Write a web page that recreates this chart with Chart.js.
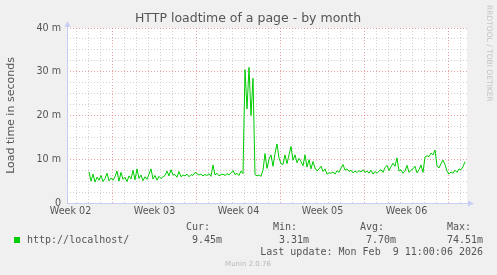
<!DOCTYPE html>
<html><head><meta charset="utf-8">
<script src="https://cdn.jsdelivr.net/npm/chart.js@4.4.1/dist/chart.umd.min.js"></script>
<style>html,body{margin:0;padding:0;background:#f0f0f0;}#wrap{width:497px;height:275px;}</style>
</head><body><div id="wrap"><canvas id="c" width="497" height="275"></canvas></div>
<script>
const chartTitle = "HTTP loadtime of a page - by month";
const yAxisTitle = "Load time in seconds";
const seriesName = "http://localhost/";
// time axis in hours since the left edge of the graph window (800 h shown)
const windowHours = 800;
const startHour = 44, stepHours = 4;
const weekLabels = ["Week 02", "Week 03", "Week 04", "Week 05", "Week 06"];
const weekLabelHours = [7, 175, 343, 511, 679];
const weekStartHours = [91, 259, 427, 595, 763];
const firstDayHour = 19;
// load time in milliseconds, one value per 4 h
const loadMs = [
 7.1,5.0,6.6,4.8,5.9,5.2,6.3,4.9,5.6,6.8,5.1,5.7,
 5.2,6.0,7.3,5.0,7.0,5.4,5.9,4.9,6.2,5.5,7.5,5.3,7.8,5.6,6.4,5.1,6.0,5.4,6.6,7.8,5.5,6.3,5.2,6.1,5.6,6.0,6.3,7.3,6.2,7.6,6.4,6.5,5.9,7.2,6.0,6.4,6.2,6.6,6.0,6.5,6.3,7.0,6.7,
 6.4,6.6,6.2,6.5,6.3,6.7,6.1,8.7,6.4,6.8,6.2,6.5,6.6,6.3,6.7,6.4,6.9,7.4,6.5,6.8,6.3,7.3,6.7,
 30.5,21.5,31,20,28.5,
 6.5,6.2,6.4,6.1,
 7.5,11.3,7.9,10.0,11.0,8.4,11.3,13.5,10.3,9.0,8.8,11.0,9.0,11.0,12.9,9.8,11.0,9.2,10.2,9.5,8.5,11.0,8.2,9.9,7.8,9.5,8.0,7.3,7.8,8.4,7.2,7.8,6.6,6.9,
 6.8,7.1,6.6,7.4,7.0,8.0,8.8,7.5,7.8,7.2,7.5,6.9,7.3,7.0,7.4,7.1,7.6,7.0,7.3,6.8,7.5,6.6,7.2,6.8,7.3,7.6,7.0,8.1,8.6,7.4,8.3,9.1,8.4,10.3,7.3,
 7.6,6.8,7.3,8.6,7.0,7.5,7.8,8.4,6.9,7.6,8.7,7.0,10.5,10.8,10.6,11.4,11.0,12.1,8.5,8.0,9.0,9.8,8.8,7.3,6.6,7.1,6.8,7.5,7.0,7.8,7.6,8.3,9.45
];
const yMax = 40, yMinorStep = 2.5, yMajorStep = 10;
const legendHeads = ["Cur:", "Min:", "Avg:", "Max:"];
const legendValues = ["9.45m", "3.31m", "7.70m", "74.51m"];
const lastUpdate = "Last update: Mon Feb  9 11:00:06 2026";
const footer = "Munin 2.0.76";
const watermark = "RRDTOOL / TOBI OETIKER";

const points = loadMs.map((v, i) => ({x: startHour + i * stepHours, y: v}));
const dayHours = [];
for (let h = firstDayHour; h < windowHours; h += 24) dayHours.push(h);
const yTicks = [];
for (let v = 0; v <= yMax; v += yMinorStep) yTicks.push(v);

const MAJOR = 'rgba(225,120,120,0.7)';
const MINOR = 'rgba(190,190,190,0.7)';
const AXIS = '#c8cdf4';
const FONT_COLOR = '#555555';

const deco = {
  id: 'deco',
  beforeDraw(chart) {
    const {ctx, chartArea: a} = chart;
    ctx.save();
    ctx.fillStyle = '#f0f0f0';
    ctx.fillRect(0, 0, chart.width, chart.height);
    ctx.fillStyle = '#ffffff';
    ctx.fillRect(a.left, a.top, a.right - a.left, a.bottom - a.top);
    ctx.restore();
  },
  afterDatasetsDraw(chart) {
    const {ctx, chartArea: a} = chart;
    const x0 = Math.round(a.left) + 0.5, y0 = Math.round(a.bottom) + 0.5;
    ctx.save();
    ctx.strokeStyle = AXIS; ctx.fillStyle = AXIS; ctx.lineWidth = 1;
    ctx.beginPath();
    ctx.moveTo(x0, y0); ctx.lineTo(x0, a.top - 3);
    ctx.moveTo(x0, y0); ctx.lineTo(a.right + 3, y0);
    ctx.stroke();
    ctx.beginPath();
    ctx.moveTo(x0 - 3, a.top - 1); ctx.lineTo(x0 + 3, a.top - 1); ctx.lineTo(x0, a.top - 7); ctx.closePath(); ctx.fill();
    ctx.beginPath();
    ctx.moveTo(a.right + 1, y0 - 3); ctx.lineTo(a.right + 1, y0 + 3); ctx.lineTo(a.right + 7, y0); ctx.closePath(); ctx.fill();
    ctx.restore();
  },
  afterDraw(chart) {
    const {ctx} = chart;
    ctx.save();
    ctx.fillStyle = FONT_COLOR;
    ctx.textBaseline = 'middle';
    ctx.textAlign = 'center';
    ctx.font = '12.5px "DejaVu Sans"';
    ctx.fillText(chartTitle, 248, 19);
    // legend
    ctx.fillStyle = '#00cc00';
    ctx.fillRect(14, 237, 6, 6);
    ctx.fillStyle = FONT_COLOR;
    ctx.textAlign = 'left';
    ctx.font = '10px "DejaVu Sans Mono"';
    ctx.fillText(seriesName, 27, 240.5);
    const headX = [186, 273, 360, 447];
    const valX = [192, 279, 366, 447];
    legendHeads.forEach((t, i) => ctx.fillText(t, headX[i], 227.5));
    legendValues.forEach((t, i) => ctx.fillText(t, valX[i], 240.5));
    ctx.textAlign = 'right';
    ctx.fillText(lastUpdate, 483, 252.5);
    ctx.textAlign = 'center';
    ctx.fillStyle = '#b8b8b8';
    ctx.font = '7px "DejaVu Sans"';
    ctx.fillText(footer, 248, 264);
    // watermark
    ctx.fillStyle = '#c4c4c4';
    ctx.font = '7.5px "DejaVu Sans"';
    ctx.translate(489, 5);
    ctx.rotate(Math.PI / 2);
    ctx.textAlign = 'left';
    ctx.fillText(watermark, 0, 0);
    ctx.restore();
  }
};

new Chart(document.getElementById('c'), {
  type: 'line',
  data: {datasets: [{label: seriesName, data: points, borderColor: '#00cc00', borderWidth: 1,
    pointRadius: 0, tension: 0, fill: false, xAxisID: 'x', yAxisID: 'y'}]},
  options: {
    responsive: false, animation: false, devicePixelRatio: 1,
    layout: {padding: {left: 0, right: 30, top: 28, bottom: 52}},
    plugins: {legend: {display: false}, tooltip: {enabled: false}, title: {display: false}},
    scales: {
      x: {
        type: 'linear', min: 0, max: windowHours, position: 'bottom',
        afterBuildTicks: s => { s.ticks = dayHours.map(v => ({value: v})); },
        afterFit: s => { s.height = 0; },
        ticks: {display: false},
        grid: {drawTicks: false, lineWidth: 1,
          color: c => weekStartHours.includes(c.tick && c.tick.value) ? MAJOR : MINOR},
        border: {display: false, dash: [1, 2]}
      },
      xl: {
        type: 'linear', min: 0, max: windowHours, position: 'bottom',
        afterBuildTicks: s => { s.ticks = weekLabelHours.map(v => ({value: v})); },
        afterFit: s => { s.height = 20; },
        ticks: {autoSkip: false, maxRotation: 0, padding: 3, color: FONT_COLOR,
          font: {family: 'DejaVu Sans', size: 9.6},
          callback: v => weekLabels[weekLabelHours.indexOf(v)]},
        grid: {display: false, drawTicks: false},
        border: {display: false}
      },
      y: {
        min: 0, max: yMax,
        afterBuildTicks: s => { s.ticks = yTicks.map(v => ({value: v})); },
        afterFit: s => { s.width = 67; },
        ticks: {autoSkip: false, padding: 6, color: FONT_COLOR,
          font: {family: 'DejaVu Sans', size: 9.6},
          callback: v => (v % yMajorStep === 0) ? (v === 0 ? '0' : v + ' m') : ''},
        grid: {drawTicks: false, lineWidth: 1,
          color: c => (c.tick && c.tick.value % yMajorStep === 0) ? MAJOR : MINOR},
        border: {display: false, dash: [1, 2]},
        title: {display: true, text: yAxisTitle, color: FONT_COLOR,
          font: {family: 'DejaVu Sans', size: 11}, padding: {top: 5, bottom: 0}}
      }
    }
  },
  plugins: [deco]
});
</script>
</body></html>
